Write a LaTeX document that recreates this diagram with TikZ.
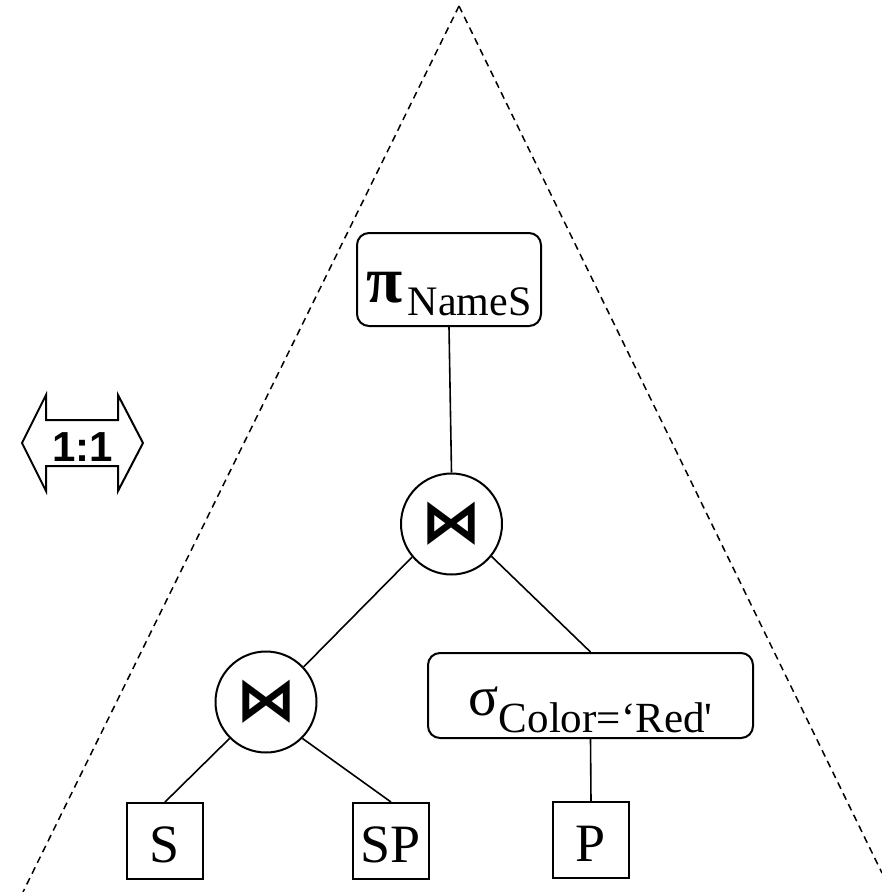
\documentclass[tikz,border=0pt]{standalone}
\usepackage{fontspec}
\setmainfont{Liberation Serif}
\newfontfamily\ratiofont{Liberation Sans}
\newfontfamily\opsymfont{DejaVu Sans}
\begin{document}
\begin{tikzpicture}[x=1pt,y=-1pt,
  opbox/.style={draw,line width=2pt,rounded corners=12pt,inner sep=0pt,text depth=0pt},
  joinop/.style={draw,circle,line width=2pt,minimum size=101pt,inner sep=0pt,
    font=\opsymfont\bfseries\fontsize{60}{64}\selectfont},
  relbox/.style={draw,line width=2pt,minimum size=76pt,inner sep=0pt,
    text height=42pt,text depth=0pt,font=\fontsize{54}{60}\selectfont},
  edge/.style={line width=1.6pt},
  boundary/.style={line width=1.5pt,dash pattern=on 7pt off 5pt}]
\useasboundingbox (0,0) rectangle (882,892);

% dashed boundary of the plan
\coordinate (apex) at (459,6);
\coordinate (bl) at (23,892);
\coordinate (br) at (882,873);
\draw[boundary] (apex) -- (bl);
\draw[boundary] (apex) -- (br);

% 1:1 double arrow
\draw[line width=2pt,line join=miter]
  (22,443) -- (46,395) -- (46,420) -- (118,420) -- (118,395) -- (143,443)
  -- (118,491) -- (118,466) -- (46,466) -- (46,491) -- cycle;
\node[inner sep=0pt,text height=37pt,text depth=0pt,
  font=\ratiofont\bfseries\fontsize{42}{46}\selectfont] (ratio) at (82.5,443) {1:1};

% operator tree
\node[opbox,minimum width=184pt,minimum height=93pt,text height=45pt] (proj) at (449,279.5)
  {{\fontsize{66}{70}\selectfont\bfseries π}\hspace{5pt}{\fontsize{42}{46}\selectfont\raisebox{-13pt}{NameS}}};
\node[joinop] (j1) at (451.5,524) {⋈};
\node[joinop] (j2) at (266,702) {⋈};
\node[opbox,minimum width=325pt,minimum height=85pt,text height=39pt] (sel) at (590.5,695.5)
  {{\fontsize{56}{60}\selectfont σ}{\fontsize{43}{46}\selectfont\raisebox{-17pt}{Color=‘Red\textquotesingle}}};
\node[relbox] (S) at (165,841) {S};
\node[relbox] (SP) at (391,841) {SP};
\node[relbox] (P) at (591,840) {P};

\draw[edge] (proj.south) -- (j1.north);
\draw[edge] (j1.220) -- (j2.43);
\draw[edge] (j1.-39) -- (sel.north);
\draw[edge] (j2.225) -- (S.north);
\draw[edge] (j2.-45) -- (SP.north);
\draw[edge] (sel.south) -- (P.north);
\end{tikzpicture}
\end{document}
